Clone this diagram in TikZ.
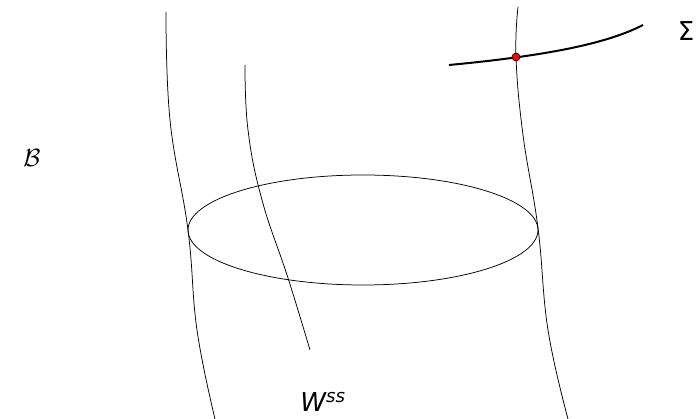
\documentclass[tikz,border=0pt]{standalone}
\usepackage{fontspec}
\setmainfont{DejaVu Sans}
\usetikzlibrary{calc}

\tikzset{
    leaf/.style={line width=0.75pt},
    section/.style={line width=2pt},
    label/.style={font=\fontsize{26}{30}\selectfont, inner sep=0pt}
}

\begin{document}
\begin{tikzpicture}[x=1pt, y=-1pt]
    \useasboundingbox (0,0) rectangle (697,419);

    % Leaves of the foliation
    \draw[leaf] plot[smooth, tension=0.7] coordinates {(166,12) (170,120) (188,230) (197,330) (215,419)};
    \draw[leaf] plot[smooth, tension=0.7] coordinates {(245,65) (248,130) (262,200) (288,278) (310,350)};
    \draw[leaf] plot[smooth, tension=0.7] coordinates {(518,7) (516,57) (523,135) (538,228) (548,330) (568,419)};

    % Disc
    \coordinate (D) at (363,230);
    \draw[leaf] (D) ellipse [x radius=175, y radius=55];

    % Transversal section
    \coordinate (S1) at (449,65);
    \coordinate (S2) at (643,25);
    \coordinate (P) at (516,57);
    \draw[section] (S1) .. controls (555,55) and (610,42) .. (S2);
    \fill[red, draw=black, line width=0.6pt] (P) circle [radius=4];

    % Labels
    \node[label] (sigma) at (686,31) {Σ};
    \node[label] (bcal) at (32,158) {$\mathcal{B}$};
    \node[label] (wss) at (323,402) {\textit{W\textsuperscript{ss}}};
\end{tikzpicture}
\end{document}
